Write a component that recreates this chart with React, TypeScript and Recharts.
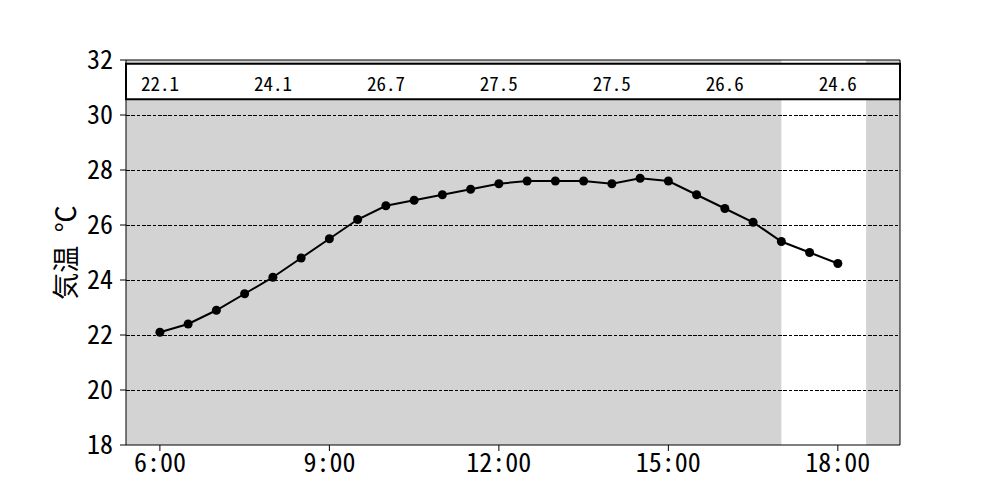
import {
  ComposedChart,
  Line,
  Scatter,
  XAxis,
  YAxis,
  ReferenceArea,
  ReferenceLine,
} from 'recharts';

// Half-hourly readings, 6:00 - 18:00
const hours = [
  6, 6.5, 7, 7.5, 8, 8.5, 9, 9.5, 10, 10.5, 11, 11.5, 12, 12.5, 13, 13.5, 14, 14.5, 15, 15.5, 16,
  16.5, 17, 17.5, 18,
];
const temps = [
  22.1, 22.4, 22.9, 23.5, 24.1, 24.8, 25.5, 26.2, 26.7, 26.9, 27.1, 27.3, 27.5, 27.6, 27.6, 27.6,
  27.5, 27.7, 27.6, 27.1, 26.6, 26.1, 25.4, 25.0, 24.6,
];

// values printed in the strip at the top
const labelHours = [6, 8, 10, 12, 14, 16, 18];
const labelValues = ['22.1', '24.1', '26.7', '27.5', '27.5', '26.6', '24.6'];

const xTicks = [6, 9, 12, 15, 18];
const yTicks = [18, 20, 22, 24, 26, 28, 30, 32];
const gridLines = [20, 22, 24, 26, 28, 30];

const X_MIN = 5.4;
const X_MAX = 19.1;
const FONT = '"Noto Sans Mono CJK JP", "Noto Sans CJK JP", "DejaVu Sans Mono", monospace';

const series = hours.map((t, i) => ({ t, temp: temps[i] }));
const stripData = labelHours.map((t, i) => ({ t, temp: 31.2, label: labelValues[i] }));

const StripLabel = (props: any) => (
  <text
    x={props.cx}
    y={props.cy}
    textAnchor="middle"
    dominantBaseline="central"
    fontFamily={FONT}
    fontSize={19}
    fill="#000"
  >
    {props.payload.label}
  </text>
);

export default function App() {
  return (
    <div style={{ position: 'absolute', left: 0, top: 0, background: '#fff' }}>
      <ComposedChart
        width={1000}
        height={500}
        data={series}
        margin={{ top: 60, right: 100, bottom: 0, left: 0 }}
      >
        <XAxis
          dataKey="t"
          type="number"
          domain={[X_MIN, X_MAX]}
          ticks={xTicks}
          tickFormatter={(h) => `${h}:00`}
          allowDataOverflow
          height={55}
          stroke="#000"
          tickSize={6}
          tickMargin={3}
          tick={{ fill: '#000', fontSize: 26, fontFamily: FONT }}
        />
        <YAxis
          type="number"
          domain={[18, 32]}
          ticks={yTicks}
          allowDataOverflow
          width={126}
          stroke="#000"
          tickSize={6}
          tickMargin={7}
          tick={{ fill: '#000', fontSize: 26, fontFamily: FONT }}
          label={{
            value: '気温 ℃',
            angle: -90,
            position: 'insideLeft',
            offset: 66,
            style: { fontSize: 27, fontFamily: FONT, fill: '#000', textAnchor: 'middle' },
          }}
        />
        <ReferenceArea x1={X_MIN} x2={17} y1={18} y2={32} fill="#d3d3d3" fillOpacity={1} stroke="none" />
        <ReferenceArea x1={18.5} x2={X_MAX} y1={18} y2={32} fill="#d3d3d3" fillOpacity={1} stroke="none" />
        {gridLines.map((v) => (
          <ReferenceLine
            key={v}
            y={v}
            stroke="#000"
            strokeWidth={1}
            strokeDasharray="3.7 1.6"
            shapeRendering="crispEdges"
          />
        ))}
        <ReferenceArea
          x1={X_MIN}
          x2={X_MAX}
          y1={30.57}
          y2={31.86}
          fill="#fff"
          fillOpacity={1}
          stroke="#000"
          strokeWidth={2}
        />
        <ReferenceLine y={32} stroke="#000" strokeWidth={1} />
        <ReferenceLine x={X_MAX} stroke="#000" strokeWidth={1} />
        <Line
          dataKey="temp"
          stroke="#000"
          strokeWidth={2}
          dot={{ r: 4.5, fill: '#000', stroke: '#000', strokeWidth: 0 }}
          activeDot={false}
          isAnimationActive={false}
        />
        <Scatter data={stripData} dataKey="temp" shape={StripLabel} isAnimationActive={false} />
      </ComposedChart>
    </div>
  );
}
